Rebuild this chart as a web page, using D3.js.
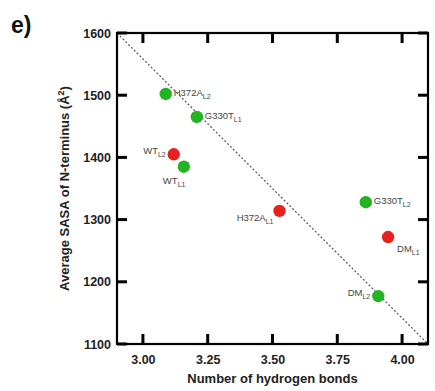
<!DOCTYPE html>
<html><head><meta charset="utf-8">
<script src="https://cdn.jsdelivr.net/npm/d3@7"></script>
<style>body{margin:0;background:#fff}svg{font-family:Arial,"Liberation Sans",sans-serif}</style>
</head><body><svg id="c" width="435" height="391"></svg>
<script>
const names = ["H372A","G330T","WT","WT","H372A","G330T","DM","DM"];
const subs  = ["L2","L1","L2","L1","L1","L2","L1","L2"];
const hbonds = [3.088,3.208,3.119,3.158,3.527,3.860,3.946,3.908];
const sasa   = [1502,1465,1405,1385,1314,1328,1272,1177];
const groups = ["green","green","red","green","red","green","red","green"];
const labelSide = ["right","right","left","below","leftbelow","right","rightbelow","left"];
const xTicks = [3.00,3.25,3.50,3.75,4.00];
const yTicks = [1100,1200,1300,1400,1500,1600];

const svg = d3.select("#c");
const L=117,T=33,R=428,B=344;
const x = d3.scaleLinear().domain([2.9,4.1]).range([L,R]);
const y = d3.scaleLinear().domain([1100,1600]).range([B,T]);
const col = {green:"#22b422", red:"#e8211e"};

svg.append("line").attr("x1",x(2.9)).attr("y1",y(1600)).attr("x2",x(4.1)).attr("y2",y(1100))
  .attr("stroke","#555").attr("stroke-width",1.2).attr("stroke-dasharray","2,2");

const ax = (g,a)=>g.call(a).call(s=>{s.select(".domain").remove(); s.selectAll(".tick line").remove();});
svg.append("g").attr("transform",`translate(0,${B})`)
  .call(g=>ax(g,d3.axisBottom(x).tickValues(xTicks).tickSize(0).tickPadding(11).tickFormat(d3.format(".2f"))));
svg.append("g").attr("transform",`translate(${L},0)`)
  .call(g=>ax(g,d3.axisLeft(y).tickValues(yTicks).tickSize(0).tickPadding(6).tickFormat(d3.format("d"))));
svg.selectAll(".tick text").attr("fill","#222").style("font-size","12.5px").style("font-weight","bold");

svg.append("rect").attr("x",L).attr("y",T).attr("width",R-L).attr("height",B-T)
  .attr("fill","none").attr("stroke","#000").attr("stroke-width",2.2);

const tk = svg.append("g").attr("fill","#000");
const tw = 3, tl = 10;
tk.selectAll(".xb").data(xTicks).join("rect").attr("x",d=>x(d)-tw/2).attr("y",B-tl).attr("width",tw).attr("height",tl);
tk.selectAll(".xt").data(xTicks).join("rect").attr("x",d=>x(d)-tw/2).attr("y",T).attr("width",tw).attr("height",tl);
tk.selectAll(".yl").data(yTicks).join("rect").attr("x",L).attr("y",d=>y(d)-tw/2).attr("width",tl).attr("height",tw);
tk.selectAll(".yr").data(yTicks).join("rect").attr("x",R-tl).attr("y",d=>y(d)-tw/2).attr("width",tl).attr("height",tw);

const data = names.map((n,i)=>({n,s:subs[i],x:hbonds[i],y:sasa[i],g:groups[i],side:labelSide[i]}));
svg.append("g").selectAll("circle").data(data).join("circle")
  .attr("cx",d=>x(d.x)).attr("cy",d=>y(d.y)).attr("r",6.2).attr("fill",d=>col[d.g]);

const off = {right:[8,-1,"start"], left:[-8,-3,"end"], below:[-21,14,"start"], leftbelow:[-6,7,"end"], rightbelow:[9,12,"start"]};
const lab = svg.append("g").selectAll("text").data(data).join("text")
  .attr("x",d=>x(d.x)+off[d.side][0]).attr("y",d=>y(d.y)+off[d.side][1]+3)
  .attr("text-anchor",d=>off[d.side][2]).attr("fill","#444").style("font-size","9.5px");
lab.append("tspan").text(d=>d.n);
lab.append("tspan").attr("dy",3).style("font-size","7px").text(d=>d.s);

svg.append("text").attr("x",(L+R)/2).attr("y",383).attr("text-anchor","middle")
  .style("font-size","13px").style("font-weight","bold").attr("fill","#222").text("Number of hydrogen bonds");
const yt = svg.append("text").attr("transform",`translate(69,${(T+B)/2}) rotate(-90)`).attr("text-anchor","middle")
  .style("font-size","13px").style("font-weight","bold").attr("fill","#222");
yt.append("tspan").text("Average SASA of N-terminus (Å");
yt.append("tspan").attr("dy",-5).style("font-size","9px").text("2");
yt.append("tspan").attr("dy",5).text(")");

svg.append("text").attr("x",11).attr("y",33).style("font-size","23px").style("font-weight","bold").attr("fill","#111").text("e)");
</script></body></html>
